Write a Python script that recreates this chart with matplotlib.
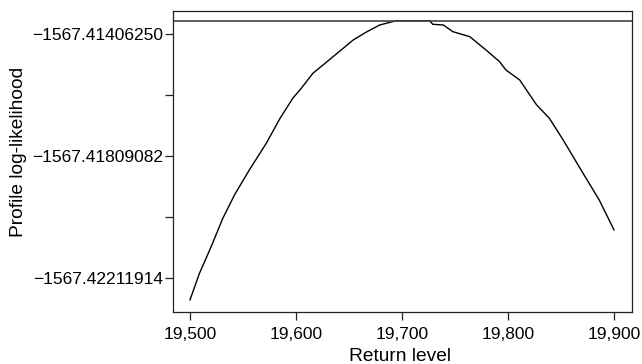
import matplotlib
matplotlib.use("Agg")
import matplotlib.pyplot as plt
from matplotlib.ticker import FixedLocator, FuncFormatter

plt.rcParams['font.family'] = ['Liberation Sans', 'DejaVu Sans']

return_level = [19500, 19509, 19520, 19531, 19542, 19556, 19572, 19585, 19597, 19605,
                19616, 19635, 19654, 19666, 19679, 19691, 19695, 19726, 19729, 19739,
                19748, 19764, 19780, 19792, 19798, 19811, 19827, 19839, 19852, 19867,
                19886, 19900]
profile_ll = [-1567.422831, -1567.421951, -1567.421074, -1567.420138, -1567.419370,
              -1567.418546, -1567.417666, -1567.416841, -1567.416182, -1567.415852,
              -1567.415358, -1567.414811, -1567.414260, -1567.414006, -1567.413766,
              -1567.413657, -1567.413624, -1567.413624, -1567.413743, -1567.413766,
              -1567.413987, -1567.414152, -1567.414613, -1567.414976, -1567.415249,
              -1567.415579, -1567.416403, -1567.416841, -1567.417557, -1567.418437,
              -1567.419534, -1567.420524]
max_ll = -1567.413624

x_ticks = [19500, 19600, 19700, 19800, 19900]
y_ticks = [-1567.42211914, -1567.42010498, -1567.41809082, -1567.41607666, -1567.41406250]
y_labels = ['−1567.42211914', '', '−1567.41809082', '', '−1567.41406250']

fig = plt.figure(figsize=(6.42, 3.64), dpi=100)
ax = fig.add_axes([0.269, 0.1437, 0.715, 0.827])

ax.plot(return_level, profile_ll, color='black', lw=1.0)
ax.axhline(max_ll, color='#444444', lw=1.2)

ax.set_xlim(19483.7, 19916.7)
ax.set_ylim(-1567.423220, -1567.413294)

ax.xaxis.set_major_locator(FixedLocator(x_ticks))
ax.xaxis.set_major_formatter(FuncFormatter(lambda v, p: f"{int(round(v)):,}"))
ax.yaxis.set_major_locator(FixedLocator(y_ticks))
ax.set_yticklabels(y_labels)

ax.tick_params(axis='both', direction='out', length=6, width=0.9, labelsize=12.5, color='#222222')
ax.tick_params(axis='y', pad=1)
ax.tick_params(axis='x', pad=5)

for s in ax.spines.values():
    s.set_linewidth(0.9)
    s.set_color('#222222')

ax.set_xlabel('Return level', fontsize=13.8)
ax.set_ylabel('Profile log-likelihood', fontsize=13.8)
ax.xaxis.set_label_coords(0.496, -0.12)
ax.yaxis.set_label_coords(-0.317, 0.53)

fig.savefig('out.png', dpi=100)
